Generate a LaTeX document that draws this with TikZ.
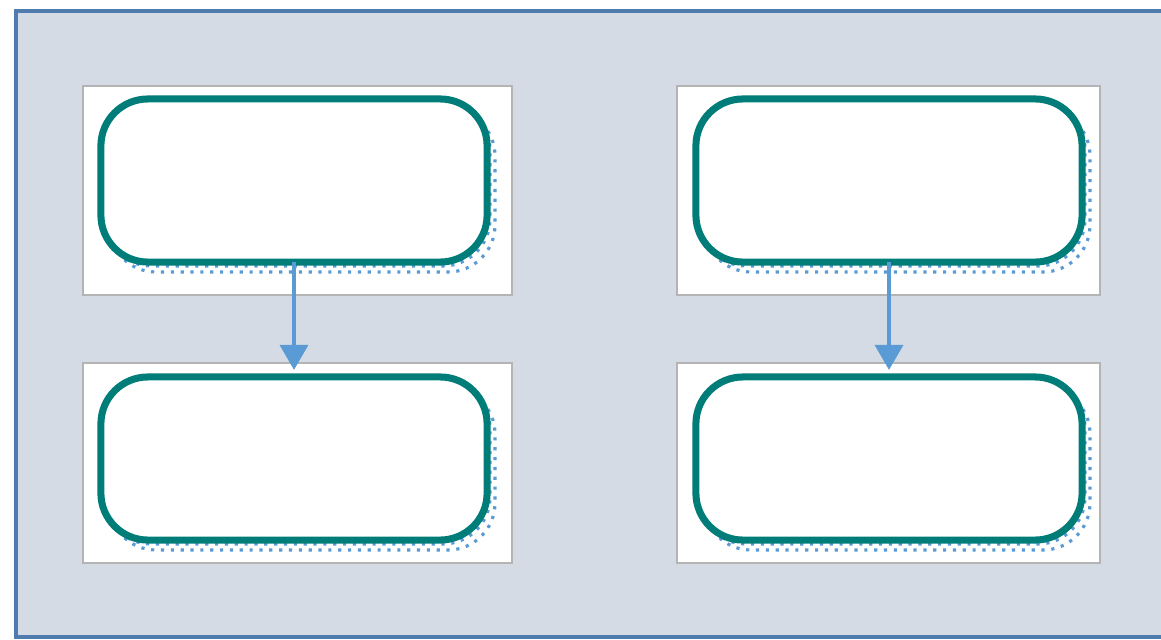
\documentclass[tikz,border=0pt]{standalone}
\usetikzlibrary{positioning,arrows.meta}

\definecolor{panelbg}{HTML}{D5DBE5}
\definecolor{panelframe}{HTML}{4F7BAE}
\definecolor{tealline}{HTML}{007D78}
\definecolor{flowblue}{HTML}{5B9BD5}
\definecolor{cardedge}{HTML}{B4B4B4}

\begin{document}
\begin{tikzpicture}[x=0.01cm,y=-0.01cm,
    step box/.style={draw=tealline,line width=2pt,fill=white,rounded corners=0.47cm,
                     minimum width=3.86cm,minimum height=1.63cm,inner sep=0pt,outer sep=0pt},
    card/.style={draw=cardedge,line width=0.3pt,fill=white},
    dots/.style={draw=flowblue,line width=0.9pt,dash pattern=on 0.9pt off 1.9pt,rounded corners=0.47cm},
    flow/.style={draw=flowblue,line width=1pt,-{Triangle[width=0.28cm,length=0.25cm]}}
  ]
  \useasboundingbox (0,0) rectangle (1161,639);
  \fill[white] (0,0) rectangle (1161,639);
  % backdrop with its frame on the left, top and bottom
  \fill[panelbg] (15,10) rectangle (1165,639);
  \draw[panelframe,line width=0.9pt] (1165,11) -- (16,11) -- (16,637) -- (1165,637);

  % white cards
  \path[card] (83,86) rectangle (512,295);
  \path[card] (677,86) rectangle (1100,295);
  \path[card] (83,363) rectangle (512,563);
  \path[card] (677,363) rectangle (1100,563);

  % dotted shadows
  \path[dots] (104,103) rectangle (490,266);
  \path[dots] (109,109) rectangle (495,272);
  \path[dots] (699,103) rectangle (1085,266);
  \path[dots] (704,109) rectangle (1090,272);
  \path[dots] (104,381) rectangle (490,544);
  \path[dots] (109,387) rectangle (495,550);
  \path[dots] (699,381) rectangle (1085,544);
  \path[dots] (704,387) rectangle (1090,550);

  \node[step box] (a1) at (294,180.5) {};
  \node[step box] (a2) at (294,458.5) {};
  \node[step box] (b1) at (889,180.5) {};
  \node[step box] (b2) at (889,458.5) {};

  \path[flow] (a1.south) -- ([yshift=2]a2.north);
  \path[flow] (b1.south) -- ([yshift=2]b2.north);
\end{tikzpicture}
\end{document}
